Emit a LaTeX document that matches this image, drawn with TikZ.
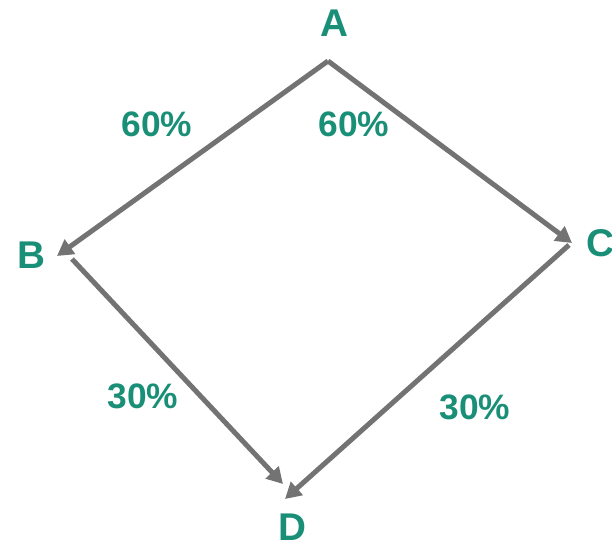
\documentclass[tikz,border=0pt]{standalone}
\usepackage{fontspec}
\setmainfont{Liberation Sans}
\usetikzlibrary{
  arrows.meta,
  positioning
}
\definecolor{pathgreen}{HTML}{1A8F77}
\definecolor{pathgray}{HTML}{737373}

\begin{document}
\begin{tikzpicture}[
      x=0.75pt, y=-0.75pt,
      point/.style={
        font=\bfseries\fontsize{29}{31}\selectfont\color{pathgreen},
        inner sep=0pt
      },
      share/.style={
        font=\bfseries\fontsize{26.5}{28}\selectfont\color{pathgreen},
        inner sep=0pt
      },
      arrow/.style={-{Triangle[length=12pt,width=13pt]}, line width=3.75pt, pathgray}
    ]
      \useasboundingbox (0,0) rectangle (612,545);

      \node[point] (A) at (334,23) {A};
      \node[point] (B) at (31,255) {B};
      \node[point] (C) at (600,243) {C};
      \node[point] (D) at (292,527) {D};

      % where the connectors meet the points
      \coordinate (A-out) at (328,61);
      \coordinate (B-in) at (57,256);
      \coordinate (B-out) at (72,259);
      \coordinate (C-in) at (572,243);
      \coordinate (C-out) at (569,245);
      \coordinate (D-left) at (283,484);
      \coordinate (D-right) at (285,499);

      \draw[arrow] (A-out) -- (B-in);
      \draw[arrow] (A-out) -- (C-in);
      \draw[arrow] (B-out) -- (D-left);
      \draw[arrow] (C-out) -- (D-right);

      \node[share] (ab) at (157,124) {60\%};
      \node[share] (ac) at (354,124) {60\%};
      \node[share] (bd) at (143,396) {30\%};
      \node[share] (cd) at (475,407) {30\%};
    \end{tikzpicture}
\end{document}
